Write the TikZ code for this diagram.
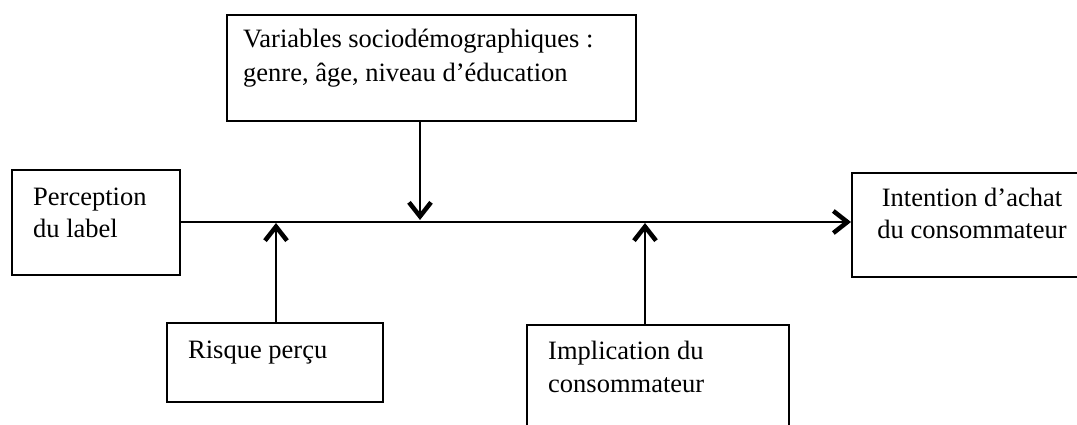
\documentclass[tikz,border=0pt]{standalone}
\usepackage{fontspec}
\setmainfont{Liberation Serif}
\usetikzlibrary{arrows.meta}
\begin{document}
\begin{tikzpicture}[x=1pt,y=1pt,
  box/.style={draw, line width=2.4pt, inner sep=0pt},
  lbl/.style={inner sep=0pt, font=\fontsize{26.5}{33}\selectfont},
  link/.style={line width=2pt, -{Straight Barb[length=14pt, width=22pt, line width=4.5pt]}}]
\useasboundingbox (0,0) rectangle (1077,-425);
\clip (0,0) rectangle (1077,-425);
% boxes
\node[box, minimum width=168pt, minimum height=105pt] (perc) at (96,-222.5) {};
\node[box, minimum width=409pt, minimum height=106pt] (var) at (431.5,-68) {};
\node[box, minimum width=238pt, minimum height=104pt] (int) at (971,-225) {};
\node[box, minimum width=216pt, minimum height=79pt] (risk) at (275,-362.5) {};
\node[box, minimum width=262pt, minimum height=115pt] (impl) at (658,-382.5) {};
% texts
\node[lbl, anchor=base west] (p1) at (33,-205) {Perception};
\node[lbl, anchor=base west] (p2) at (33,-237) {du label};
\node[lbl, anchor=base west] (v1) at (243,-48) {Variables sociodémographiques :};
\node[lbl, anchor=base west] (v2) at (243,-82) {genre, âge, niveau d’éducation};
\node[lbl, anchor=base] (i1) at (972,-207) {Intention d’achat};
\node[lbl, anchor=base] (i2) at (972,-238) {du consommateur};
\node[lbl, anchor=base west] (r1) at (188,-358) {Risque perçu};
\node[lbl, anchor=base west] (m1) at (548,-359) {Implication du};
\node[lbl, anchor=base west] (m2) at (548,-392) {consommateur};
% junctions on the main line
\coordinate (j1) at (276,-222);
\coordinate (j2) at (420,-222);
\coordinate (j3) at (645,-222);
\coordinate (jend) at (851,-222);
% connectors
\draw[link] (perc.east |- j1) -- (jend);
\draw[link] (var.south -| j2) -- ([yshift=2pt]j2);
\draw[link] (risk.north -| j1) -- ([yshift=-1pt]j1);
\draw[link] (impl.north -| j3) -- ([yshift=-1pt]j3);
\end{tikzpicture}
\end{document}
